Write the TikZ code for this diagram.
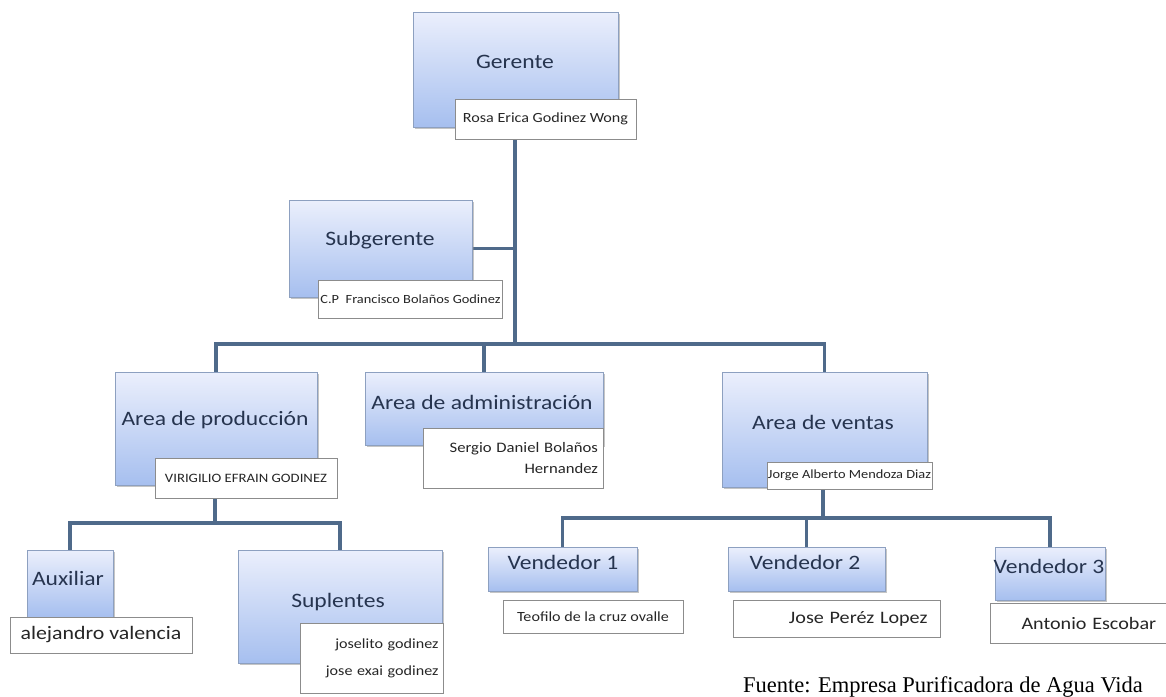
\documentclass[tikz,border=0pt]{standalone}
\usepackage{fontspec}
\usepackage{tikz}
\usetikzlibrary{shadows,backgrounds}
\newfontfamily\calib[FakeStretch=1.15]{Carlito}
\newfontfamily\fuentecap{Liberation Serif}
\definecolor{cargoborde}{HTML}{8DA0C0}
\definecolor{cargoarriba}{HTML}{EBEFFC}
\definecolor{cargoabajo}{HTML}{A6BFEF}
\definecolor{nombborde}{HTML}{8C8C8C}
\definecolor{titcolor}{HTML}{26344F}
\definecolor{lineacolor}{HTML}{4F6A8A}

\begin{document}
\begin{tikzpicture}[x=1pt,y=-1pt]%
  \tikzstyle{cargo}=[rectangle,draw=cargoborde,line width=1pt,top color=cargoarriba,bottom color=cargoabajo,
    drop shadow={shadow xshift=2pt,shadow yshift=-2pt,fill=black!45,opacity=.5},inner sep=0]
  \tikzstyle{nomb}=[rectangle,draw=nombborde,fill=white,line width=1pt,inner sep=2pt,
    font=\calib\fontsize{14}{17}\selectfont,text=black!85]
  \tikzstyle{tit}=[font=\calib\fontsize{20.5}{23}\selectfont,text=titcolor,inner sep=0]
  \tikzstyle{linea}=[draw=lineacolor,line width=3.2pt]
  \useasboundingbox (0,0) rectangle (1166,696);
  % cajas
  \node(ger)[cargo,minimum width=205pt,minimum height=115pt] at (515.5,69.5) {};
  \node(sub)[cargo,minimum width=183pt,minimum height=97pt] at (380.5,248.5) {};
  \node(prod)[cargo,minimum width=202pt,minimum height=113pt] at (216,428.5) {};
  \node(admin)[cargo,minimum width=238pt,minimum height=73pt] at (484,408.5) {};
  \node(ventas)[cargo,minimum width=205pt,minimum height=115pt] at (824.5,429.5) {};
  \node(aux)[cargo,minimum width=86pt,minimum height=67pt] at (70,583.5) {};
  \node(sup)[cargo,minimum width=204pt,minimum height=113pt] at (340,606.5) {};
  \node(v1)[cargo,minimum width=149pt,minimum height=44pt] at (562.5,569) {};
  \node(v2)[cargo,minimum width=157pt,minimum height=44pt] at (806.5,569) {};
  \node(v3)[cargo,minimum width=110pt,minimum height=53pt] at (1050,573.5) {};
  % titulos
  \node(tger)[tit] at (515,62) {Gerente};
  \node(tsub)[tit] at (380,240) {Subgerente};
  \node(tprod)[tit] at (215,420) {Area de producción};
  \node(tadmin)[tit] at (482,402) {Area de administración};
  \node(tventas)[tit] at (823,422) {Area de ventas};
  \node(taux)[tit] at (68,578) {Auxiliar};
  \node(tsup)[tit] at (338,602) {Suplentes};
  \node(tv1)[tit] at (563,562) {Vendedor 1};
  \node(tv2)[tit] at (805,562) {Vendedor 2};
  \node(tv3)[tit] at (1049,566) {Vendedor 3};
  % nombres
  \node(nger)[nomb,minimum width=181pt,minimum height=40pt] at (545.5,119) {Rosa Erica Godinez Wong};
  \node(nsub)[nomb,minimum width=181pt,minimum height=38pt,font=\calib\fontsize{12.5}{15}\selectfont] at (410.5,299) {C.P\ \ Francisco Bolaños Godinez};
  \node(nprod)[nomb,minimum width=182pt,minimum height=40pt,font=\calib\fontsize{12.8}{15}\selectfont] at (246,478) {VIRIGILIO EFRAIN GODINEZ};
  \node(nadmin)[nomb,minimum width=180pt,minimum height=60pt,text width=170pt,align=right,
    font=\calib\fontsize{14.5}{21}\selectfont] at (513,458) {Sergio Daniel Bolaños\\Hernandez};
  \node(nventas)[nomb,minimum width=165pt,minimum height=27pt,inner sep=0,font=\calib\fontsize{12.5}{15}\selectfont] at (849.5,475.5) {Jorge Alberto Mendoza Diaz};
  \node(naux)[nomb,minimum width=182pt,minimum height=36pt,font=\calib\fontsize{19}{22}\selectfont] at (101,635) {alejandro valencia};
  \node(nsup)[nomb,minimum width=143pt,minimum height=70pt,text width=134pt,align=right,
    font=\calib\fontsize{14}{27}\selectfont] at (371.5,658) {joselito godinez\\jose exai godinez};
  \node(nv1)[nomb,minimum width=180pt,minimum height=33pt] at (593,616.5) {Teofilo de la cruz ovalle};
  \node(nv2)[nomb,minimum width=207pt,minimum height=37pt,text width=190pt,align=right,
    font=\calib\fontsize{17.5}{20}\selectfont] at (836.5,618.5) {Jose Peréz Lopez\hspace*{4pt}};
  \node(nv3)[nomb,minimum width=180pt,minimum height=40pt,text width=165pt,align=left,
    font=\calib\fontsize{17.5}{20}\selectfont] at (1080,623) {\hspace*{24pt}Antonio Escobar};
  % conectores
  \coordinate(bar1) at (515,344);
  \coordinate(bar2) at (215,523);
  \coordinate(bar3) at (823,518);
  \begin{scope}[on background layer]
    \fill[white] (0,0) rectangle (1166,696);
    \draw[linea] (bar1 |- nger.south) -- (bar1);
    \draw[linea] (sub.east) -- (sub.east -| bar1);
    \draw[linea] (prod.north) |- (bar1) -| (ventas.north);
    \draw[linea] (admin.north) -- (admin.north |- bar1);
    \draw[linea] (bar2 |- prod.south) -- (bar2);
    \draw[linea] (aux.north) |- (bar2) -| (sup.north);
    \draw[linea] (bar3 |- ventas.south) -- (bar3);
    \draw[linea] (v1.north) |- (bar3) -| (v3.north);
    \draw[linea] (v2.north) -- (v2.north |- bar3);
  \end{scope}
  \node(fuente)[anchor=base,inner sep=0,font=\fuentecap\fontsize{22.5}{25}\selectfont] at (943,692) {Fuente: Empresa Purificadora de Agua Vida};
\end{tikzpicture}
\end{document}
